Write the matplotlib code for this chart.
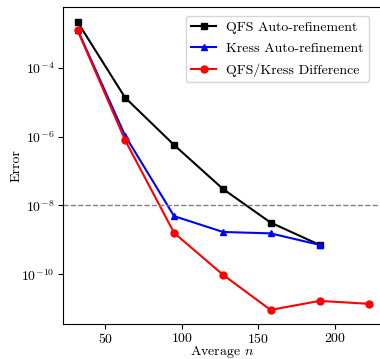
import matplotlib
matplotlib.use("Agg")
import matplotlib.pyplot as plt
from matplotlib.ticker import FixedLocator, LogFormatterSciNotation, NullLocator

plt.rcParams['font.family'] = 'serif'
plt.rcParams['font.serif'] = ['cmr10']
plt.rcParams['mathtext.fontset'] = 'cm'
plt.rcParams['axes.formatter.use_mathtext'] = True
plt.rcParams['axes.unicode_minus'] = False

avg_n = [32, 63, 95, 127, 158, 190, 222]
qfs_err = [2.1e-3, 1.35e-5, 5.7e-7, 3.0e-8, 3.2e-9, 7.2e-10]
kress_err = [1.24e-3, 1.07e-6, 4.9e-9, 1.7e-9, 1.55e-9, 7.2e-10]
diff_err = [1.2e-3, 7.9e-7, 1.6e-9, 9.7e-11, 9.3e-12, 1.7e-11, 1.4e-11]
y_ticks = [1e-4, 1e-6, 1e-8, 1e-10]
x_ticks = [50, 100, 150, 200]
threshold = 1e-8

fig = plt.figure(figsize=(3.8, 3.59), dpi=100)
ax = fig.add_axes([0.166, 0.0975, 0.838, 0.883])

ax.semilogy(avg_n[:len(qfs_err)], qfs_err, 'k-s', lw=1.5, ms=5, label='QFS Auto-refinement')
ax.semilogy(avg_n[:len(kress_err)], kress_err, 'b-^', lw=1.5, ms=5, label='Kress Auto-refinement')
ax.semilogy(avg_n, diff_err, 'r-o', lw=1.5, ms=5, label='QFS/Kress Difference')
ax.axhline(threshold, color='gray', ls='--', lw=1)

ax.set_xlim(22.5, 230.5)
ax.set_ylim(10**-11.44, 10**-2.24)
ax.set_xticks(x_ticks)
ax.yaxis.set_major_locator(FixedLocator(y_ticks))
ax.yaxis.set_major_formatter(LogFormatterSciNotation())
ax.yaxis.set_minor_locator(NullLocator())
ax.set_xlabel('Average $n$', fontsize=10, labelpad=-1.5)
ax.set_ylabel('Error', fontsize=10)
ax.yaxis.set_label_coords(-0.128, 0.5)
ax.tick_params(labelsize=10, pad=2.5)
ax.legend(loc='upper right', fontsize=10, labelspacing=0.6, handlelength=1.8,
          handletextpad=0.7, bbox_to_anchor=(0.982, 0.995))

fig.savefig('out.png', dpi=100)
